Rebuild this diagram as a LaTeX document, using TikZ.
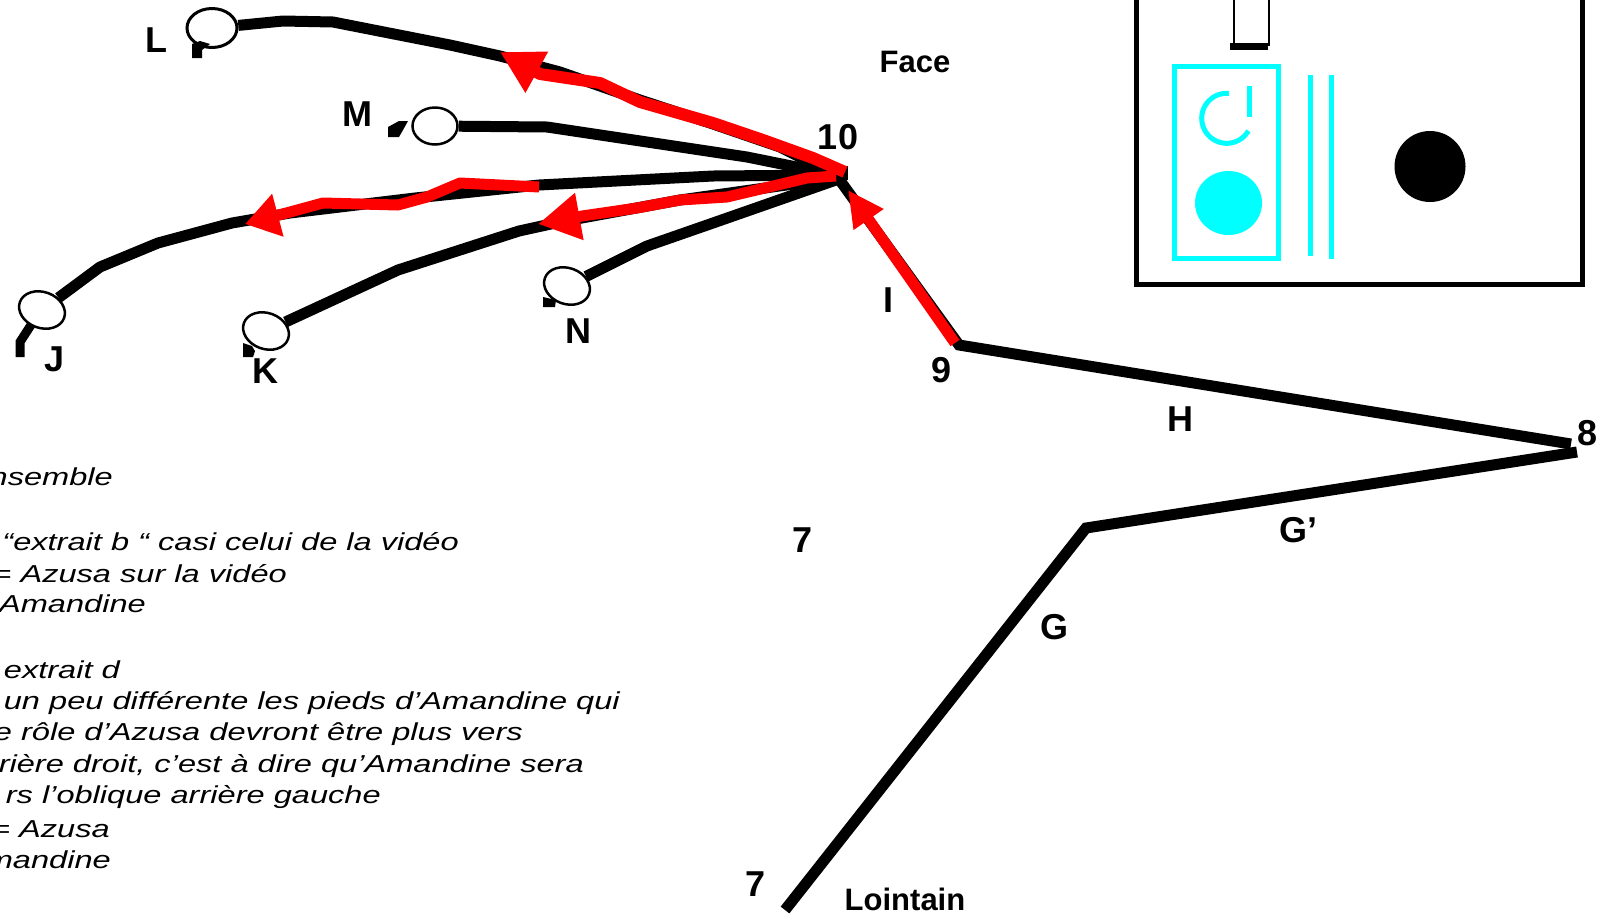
\documentclass[tikz,border=0pt]{standalone}
\usepackage{fontspec}
\setmainfont{Liberation Sans}
\usepackage{graphicx}
\usetikzlibrary{arrows.meta,shapes.geometric}
\definecolor{aqua}{RGB}{0,255,255}
\definecolor{redc}{RGB}{255,0,0}
\pgfdeclarelayer{bg}
\pgfsetlayers{bg,main}
\newcommand{\bodyline}[1]{\scalebox{1.33}[1]{#1}}
\begin{document}
\begin{tikzpicture}[x=1pt,y=-1pt,
 blk/.style={line width=11pt, line join=round},
 redl/.style={draw=redc, line width=12pt, line join=round},
 dancer/.style={ellipse, draw, line width=2.5pt, inner sep=0pt, minimum width=47pt, minimum height=36pt, fill=white},
 lab/.style={font=\fontsize{36}{36}\selectfont\bfseries, inner sep=0pt, anchor=base},
 word/.style={font=\fontsize{31}{31}\selectfont\bfseries, inner sep=0pt, anchor=base},
 body/.style={font=\fontsize{24.5}{29}\selectfont\itshape, inner sep=0pt, anchor=base east},
]
\useasboundingbox (0,0) rectangle (1609,914);
\clip (0,0) rectangle (1609,914);

% key points
\coordinate (p10) at (836,175);
\coordinate (p9) at (959,345);
\coordinate (p8a) at (1571,444);
\coordinate (p8b) at (1577,452);
\coordinate (pG) at (1086,528);
\coordinate (p7) at (785,910);

% dancers
\node[dancer, minimum width=50pt, minimum height=39pt, line width=3pt] (L) at (212,28) {};
\node[dancer, minimum width=45pt, minimum height=37pt] (M) at (435,126) {};
\node[dancer, rotate=-20] (J) at (42,310) {};
\node[dancer, rotate=-20] (K) at (266,331) {};
\node[dancer, rotate=-20] (N) at (567,286) {};

% feet
\fill (192,44) -- (200,41) -- (210,44) -- (202,50) -- (202,58) -- (192,58) -- cycle;
\fill (388,127) -- (399,121) -- (408,121) -- (403,130) -- (399,137) -- (388,137) -- cycle;
\draw[line width=9pt] (31,325) -- (20,342) -- (20,357);
\fill (243,343) -- (252,346) -- (255,351) -- (253,357) -- (243,357) -- cycle;
\fill (543,297) -- (556,300) -- (555,307) -- (543,307) -- cycle;

\begin{pgfonlayer}{bg}
\draw[blk] (L) -- (283,21) -- (333,22) -- (450,45) -- (500,56) -- (560,72) -- (640,100) -- (713,124) -- (780,147) -- (p10);
\draw[blk] (M) -- (547,127) -- (647,142) -- (747,157) -- (p10);
\draw[blk] (J) -- (100,267) -- (158,243) -- (232,223) -- (290,213) -- (415,198) -- (539,185) -- (713,176) -- (p10);
\draw[blk] (K) -- (398,270) -- (519,231) -- (560,222) -- (680,200) -- (836,178);
\draw[blk] (N) -- (647,246) -- (713,223) -- (836,180);
\end{pgfonlayer}

% path I - H - G' - G
\draw[blk, line join=miter] (p10) -- (p9) -- (p8a);
\draw[blk, line join=miter] (p8b) -- (pG) -- (p7);
\fill (839,166) rectangle (848,180);

% red arrows
\draw[redl, -{Triangle[length=42pt,width=44pt]}] (845,172) -- (813,158) -- (763,140) -- (713,123) -- (640,102) -- (600,83) -- (540,74) -- (500,52);
\draw[redl, line width=11pt, -{Triangle[length=34pt,width=42pt]}] (539,187) -- (460,183) -- (427,197) -- (398,205) -- (323,203) -- (290,212) -- (245,224);
\draw[redl, line width=11pt, -{Triangle[length=42pt,width=45pt]}] (836,176) -- (807,178) -- (727,197) -- (680,200) -- (637,208) -- (582,216) -- (538,224);
\draw[redl, line width=11pt, -{Triangle[length=36pt,width=34pt]}] (955,343) -- (848,190);

% stage box
\draw[line width=5pt] (1136.5,-10) -- (1136.5,284.5) -- (1582.5,284.5) -- (1582.5,-10);
\draw[line width=2pt] (1234,-10) -- (1234,46) (1269,-10) -- (1269,46);
\fill (1230,43) rectangle (1268,50);
\draw[aqua, line width=5.3pt] (1174.7,66.7) rectangle (1278.3,258.3);
\draw[aqua, line width=5pt] (1310.5,75) -- (1310.5,256);
\draw[aqua, line width=5pt] (1331.5,75) -- (1331.5,259);
\draw[aqua, line width=5pt] plot[domain=85:330, samples=40] ({1226.7+25*cos(\x)},{118.3-25*sin(\x)});
\draw[aqua, line width=5pt] (1249.5,86) -- (1249.5,117);
\fill[aqua] (1228.5,203) ellipse [x radius=33.5, y radius=32];
\fill (1430,166.5) circle [radius=35.5];

% labels
\node[lab] (tL) at (156,52) {L};
\node[lab] (tM) at (357,126) {M};
\node[lab] (tJ) at (55,371) {J};
\node[lab] (tK) at (265,383) {K};
\node[lab] (tN) at (578,343) {N};
\node[lab] (t10) at (838,149) {10};
\node[word] (tFace) at (915,72) {Face};
\node[lab] (tI) at (888,312) {I};
\node[lab] (t9) at (941,382) {9};
\node[lab] (tH) at (1180,431) {H};
\node[lab] (t8) at (1587,445) {8};
\node[lab] (tGp) at (1298,542) {G’};
\node[lab] (t7a) at (803,552) {7};
\node[lab] (tG) at (1054,639) {G};
\node[lab] (t7b) at (756,896) {7};
\node[word] (tLoin) at (905,910) {Lointain};

% text block
\node[body] (b1) at (113,485) {\bodyline{nsemble}};
\node[body] (b2) at (459,550) {\bodyline{“extrait b “ casi celui de la vidéo}};
\node[body] (b3) at (287,582) {\bodyline{= Azusa sur la vidéo}};
\node[body] (b4) at (146,612) {\bodyline{Amandine}};
\node[body] (b5) at (120,678) {\bodyline{extrait d}};
\node[body] (b6) at (620,709) {\bodyline{un peu différente les pieds d’Amandine qui}};
\node[body] (b7) at (523,740) {\bodyline{e rôle d’Azusa devront être plus vers}};
\node[body] (b8) at (584,772) {\bodyline{rière droit, c’est à dire qu’Amandine sera}};
\node[body] (b9) at (381,803) {\bodyline{rs l’oblique arrière gauche}};
\node[body] (b10) at (110,837) {\bodyline{= Azusa}};
\node[body] (b11) at (111,868) {\bodyline{mandine}};
\end{tikzpicture}
\end{document}
